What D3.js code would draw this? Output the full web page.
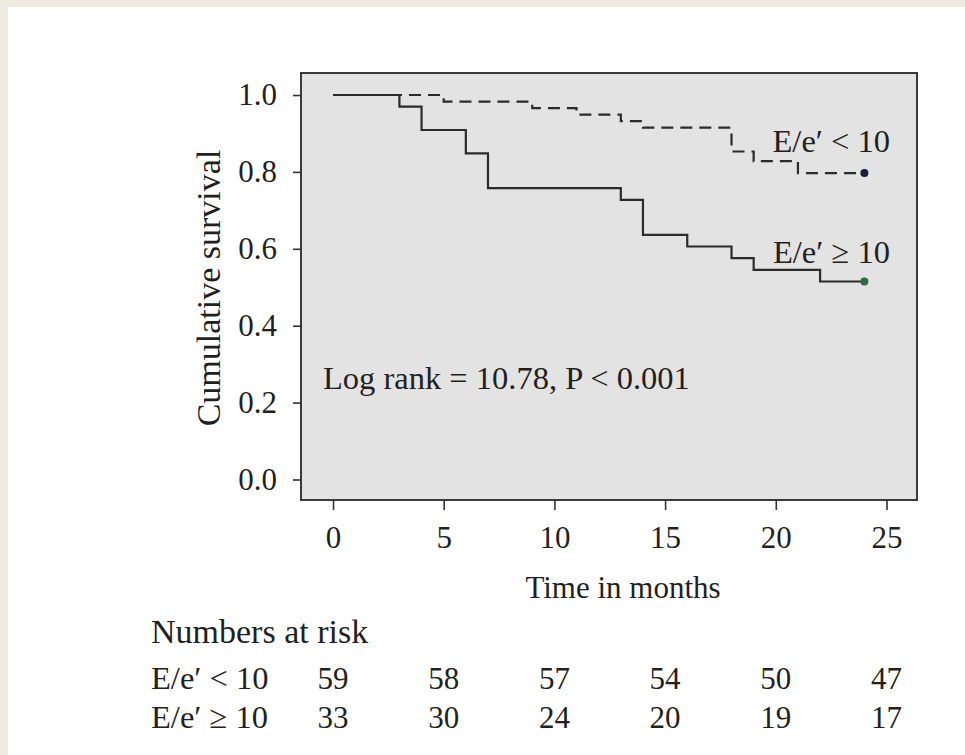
<!DOCTYPE html>
<html>
<head>
<meta charset="utf-8">
<script src="https://cdn.jsdelivr.net/npm/d3@7"></script>
<style>
  html, body { margin: 0; padding: 0; background: #ffffff; }
  svg { display: block; }
  text { font-family: "Liberation Serif", "Times New Roman", serif; fill: #231f20; }
</style>
</head>
<body>
<svg id="chart" width="965" height="755"></svg>
<script>
// ---- data ----
const groupLow = "E/e\u2032 < 10";
const groupHigh = "E/e\u2032 \u2265 10";
const lowTimes = [0, 5, 9, 11, 13, 14, 18, 19, 21, 24];
const lowSurv  = [1.0, 0.983, 0.966, 0.949, 0.932, 0.915, 0.853, 0.828, 0.797, 0.797];
const highTimes = [0, 3, 4, 6, 7, 13, 14, 16, 18, 19, 22, 24];
const highSurv  = [1.0, 0.970, 0.909, 0.848, 0.758, 0.727, 0.636, 0.606, 0.576, 0.545, 0.515, 0.515];
const xTicks = [0, 5, 10, 15, 20, 25];
const yTicks = [0.0, 0.2, 0.4, 0.6, 0.8, 1.0];
const riskLow  = [59, 58, 57, 54, 50, 47];
const riskHigh = [33, 30, 24, 20, 19, 17];
const logRankText = "Log rank = 10.78, P < 0.001";

// ---- layout ----
const svg = d3.select("#chart");
const FS = 31;
const FL = 32.5;
const box = {left: 301, right: 917, top: 73, bottom: 500};
const x = d3.scaleLinear().domain([0, 25]).range([333, 886.5]);
const y = d3.scaleLinear().domain([0, 1]).range([479.5, 95]);

// beige frame (top and left)
svg.append("rect").attr("x", 0).attr("y", 0).attr("width", 965).attr("height", 7).attr("fill", "#efebe3");
svg.append("rect").attr("x", 0).attr("y", 0).attr("width", 8).attr("height", 755).attr("fill", "#efebe3");

// plot panel
svg.append("rect")
  .attr("x", box.left).attr("y", box.top)
  .attr("width", box.right - box.left).attr("height", box.bottom - box.top)
  .attr("fill", "#e3e3e3").attr("stroke", "#3a3a3a").attr("stroke-width", 2);

// axes
const yAxis = d3.axisLeft(y).tickValues(yTicks).tickFormat(d3.format(".1f")).tickSize(8).tickPadding(16);
const gy = svg.append("g").attr("transform", `translate(${box.left},0)`).call(yAxis);
gy.select(".domain").remove();
gy.selectAll(".tick line").attr("stroke", "#333").attr("stroke-width", 1.6);
gy.selectAll(".tick text").attr("font-size", FS).attr("font-family", "Liberation Serif, serif").attr("fill", "#231f20");

const xAxis = d3.axisBottom(x).tickValues(xTicks).tickFormat(d3.format("d")).tickSize(10).tickPadding(16);
const gx = svg.append("g").attr("transform", `translate(0,${box.bottom})`).call(xAxis);
gx.select(".domain").remove();
gx.selectAll(".tick line").attr("stroke", "#333").attr("stroke-width", 1.6);
gx.selectAll(".tick text").attr("font-size", FS).attr("font-family", "Liberation Serif, serif").attr("fill", "#231f20");

// axis titles
svg.append("text").attr("transform", "translate(220,288) rotate(-90)")
  .attr("text-anchor", "middle").attr("font-size", 34).text("Cumulative survival");
svg.append("text").attr("x", 623).attr("y", 598)
  .attr("text-anchor", "middle").attr("font-size", FS).text("Time in months");

// curves
const line = d3.line().x(d => x(d[0])).y(d => y(d[1])).curve(d3.curveStepAfter);
const lowData = lowTimes.map((t, i) => [t, lowSurv[i]]);
const highData = highTimes.map((t, i) => [t, highSurv[i]]);

svg.append("path").datum(lowData).attr("d", line)
  .attr("fill", "none").attr("stroke", "#2b2b2b").attr("stroke-width", 2.2)
  .attr("stroke-dasharray", "12,7");
svg.append("path").datum(highData).attr("d", line)
  .attr("fill", "none").attr("stroke", "#2b2b2b").attr("stroke-width", 2.2);

// end markers
const lastLow = lowData[lowData.length - 1];
const lastHigh = highData[highData.length - 1];
svg.append("circle").attr("cx", x(lastLow[0])).attr("cy", y(lastLow[1])).attr("r", 4).attr("fill", "#1c1c3c");
svg.append("circle").attr("cx", x(lastHigh[0])).attr("cy", y(lastHigh[1])).attr("r", 4).attr("fill", "#2f6b3c");

// curve labels
svg.append("text").attr("x", 890).attr("y", 152).attr("text-anchor", "end").attr("font-size", FL).text(groupLow);
svg.append("text").attr("x", 890).attr("y", 263).attr("text-anchor", "end").attr("font-size", FL).text(groupHigh);

// log-rank annotation
svg.append("text").attr("x", 323).attr("y", 389).attr("font-size", FL).text(logRankText);

// numbers at risk
svg.append("text").attr("x", 151).attr("y", 643).attr("font-size", 34).text("Numbers at risk");
const rows = [{label: groupLow, vals: riskLow, y: 689}, {label: groupHigh, vals: riskHigh, y: 728}];
rows.forEach(r => {
  svg.append("text").attr("x", 151).attr("y", r.y).attr("font-size", FL).text(r.label);
  svg.selectAll(null).data(r.vals).enter().append("text")
    .attr("x", (d, i) => x(xTicks[i])).attr("y", r.y)
    .attr("text-anchor", "middle").attr("font-size", FS).text(d => d);
});
</script>
</body>
</html>
